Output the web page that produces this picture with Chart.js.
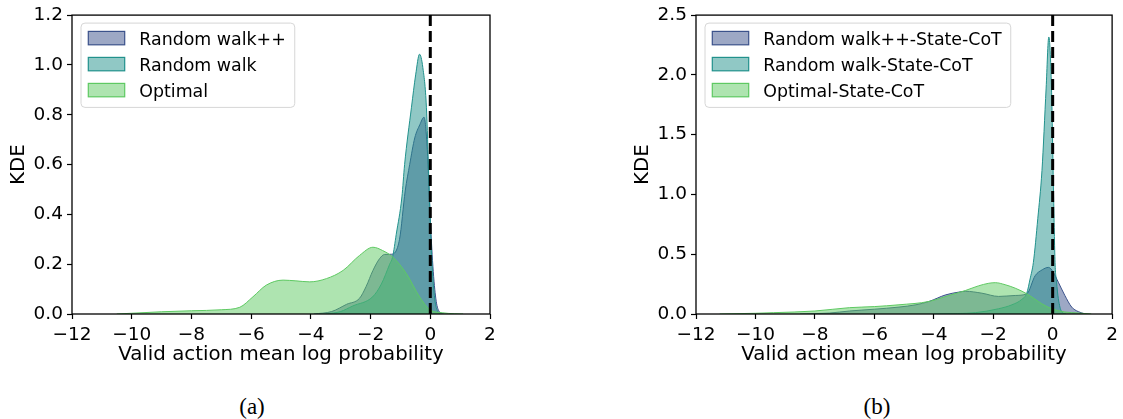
<!DOCTYPE html>
<html>
<head>
<meta charset="utf-8">
<script src="https://cdn.jsdelivr.net/npm/chart.js@4.4.1/dist/chart.umd.min.js"></script>
<style>
  html, body { margin: 0; padding: 0; background: #fff; }
  #figure { position: relative; width: 1123px; height: 419px; overflow: hidden; background: #fff; }
  #figure canvas { position: absolute; top: 0; }
  .caption {
    position: absolute; top: 395px; width: 100px; height: 23px; line-height: 23px;
    text-align: center; font-family: 'Liberation Serif', serif; font-size: 23px; color: #000;
  }
</style>
</head>
<body>
<div id="figure">
  <canvas id="chartA" width="560" height="380" style="left:0"></canvas>
  <canvas id="chartB" width="499" height="380" style="left:624px"></canvas>
  <div class="caption" style="left:202px">(a)</div>
  <div class="caption" style="left:827px">(b)</div>
</div>
<script>
// Series names
const labelsA = ['Random walk++', 'Random walk', 'Optimal'];
const labelsB = ['Random walk++-State-CoT', 'Random walk-State-CoT', 'Optimal-State-CoT'];

// Panel (a): KDE curves
const rwPlusX = [-3.9, -3.3, -2.8, -2.37, -2.15, -1.92, -1.7, -1.53, -1.3, -1.03, -0.84, -0.69, -0.52, -0.35, -0.21, -0.1, 0.0, 0.1, 0.2, 0.3, 0.45];
const rwPlusY = [0, 0.01, 0.039, 0.063, 0.11, 0.175, 0.222, 0.239, 0.24, 0.3, 0.494, 0.6, 0.707, 0.76, 0.79, 0.66, 0.38, 0.17, 0.05, 0.01, 0];

const rwX = [-3.5, -3.0, -2.6, -1.93, -1.64, -1.36, -1.26, -1.14, -0.95, -0.86, -0.63, -0.49, -0.36, -0.25, -0.13, -0.05, 0.05, 0.15, 0.25, 0.35];
const rwY = [0, 0.01, 0.032, 0.069, 0.12, 0.2, 0.23, 0.32, 0.47, 0.6, 0.83, 0.96, 1.043, 0.99, 0.83, 0.55, 0.22, 0.06, 0.01, 0];

const optX = [-10.5, -10, -9, -8, -7, -6.38, -5.94, -5.49, -4.93, -4.5, -4.04, -3.48, -2.92, -2.37, -1.92, -1.6, -1.25, -0.8, -0.36, 0, 0.4, 0.8, 1.1];
const optY = [0, 0.003, 0.009, 0.013, 0.017, 0.027, 0.069, 0.116, 0.136, 0.133, 0.129, 0.142, 0.175, 0.235, 0.268, 0.255, 0.228, 0.162, 0.069, 0.016, 0.005, 0.001, 0];

// Panel (b): State-CoT variants
const rwPlusCotX = [-8.5, -7.5, -6.84, -6, -5.17, -4.6, -4.16, -3.6, -3.16, -2.93, -2.38, -1.82, -1.26, -0.87, -0.59, -0.35, -0.14, 0.02, 0.19, 0.41, 0.64, 0.86, 1.1];
const rwPlusCotY = [0, 0.008, 0.025, 0.04, 0.058, 0.077, 0.105, 0.16, 0.183, 0.19, 0.174, 0.147, 0.155, 0.169, 0.32, 0.37, 0.39, 0.35, 0.266, 0.155, 0.058, 0.02, 0];

const rwCotX = [-4, -3.2, -2.6, -1.82, -1.37, -1.04, -0.87, -0.76, -0.65, -0.5, -0.36, -0.22, -0.13, -0.04, 0.03, 0.08, 0.13, 0.19, 0.3, 0.45];
const rwCotY = [0, 0.004, 0.011, 0.044, 0.077, 0.122, 0.175, 0.293, 0.43, 0.8, 1.2, 1.89, 2.317, 1.89, 1.0, 0.43, 0.27, 0.13, 0.02, 0];

const optCotX = [-11.2, -10, -9.4, -8, -6.84, -6, -5.17, -4.16, -3.49, -2.93, -2.5, -2.15, -1.93, -1.6, -1.26, -0.87, -0.6, -0.37, -0.03, 0.41, 0.86, 1.3];
const optCotY = [0, 0.006, 0.011, 0.025, 0.053, 0.062, 0.077, 0.105, 0.155, 0.197, 0.235, 0.257, 0.262, 0.245, 0.216, 0.169, 0.125, 0.086, 0.044, 0.017, 0.008, 0];

// Dashed reference line position
const refLineX = 0;

const colors = ['#3b528b', '#21918c', '#5ec962'];
const fontFamily = '"DejaVu Sans", sans-serif';

// Frame around the chart area (all four spines)
function chartAreaBorderPlugin() {
  return {
    id: 'chartAreaBorder',
    afterDatasetsDraw(chart) {
      const { ctx, chartArea: { left, top, right, bottom } } = chart;
      ctx.save();
      ctx.strokeStyle = '#000';
      ctx.lineWidth = 1.3;
      ctx.strokeRect(left, top, right - left, bottom - top);
      ctx.restore();
    },
  };
}

// Legend in a light rounded box, upper left corner
function legendBoxPlugin() {
  return {
    id: 'legendBox',
    afterDatasetsDraw(chart) {
      const { ctx, chartArea } = chart;
      const items = chart.data.datasets.filter((ds) => ds.fill);
      ctx.save();
      ctx.font = `17.4px ${fontFamily}`;
      const textWidth = Math.max(...items.map((ds) => ctx.measureText(ds.label).width));
      const rowGap = 26;
      const left = chartArea.left + 9;
      const top = chartArea.top + 8;
      const width = 58.3 + textWidth + 9;
      const height = 15 + rowGap * (items.length - 1) + 17.3;

      ctx.beginPath();
      if (ctx.roundRect) ctx.roundRect(left, top, width, height, 4);
      else ctx.rect(left, top, width, height);
      ctx.fillStyle = 'rgba(255,255,255,0.8)';
      ctx.fill();
      ctx.strokeStyle = '#d6d6d6';
      ctx.lineWidth = 1;
      ctx.stroke();

      items.forEach((ds, i) => {
        const cy = top + 15 + i * rowGap;
        ctx.fillStyle = ds.backgroundColor;
        ctx.fillRect(left + 7.3, cy - 6.7, 36.4, 13.4);
        ctx.strokeStyle = ds.borderColor;
        ctx.lineWidth = 1.2;
        ctx.strokeRect(left + 7.3, cy - 6.7, 36.4, 13.4);
        ctx.fillStyle = '#000';
        ctx.textBaseline = 'alphabetic';
        ctx.textAlign = 'left';
        ctx.fillText(ds.label, left + 58.3, cy + 7.1);
      });
      ctx.restore();
    },
  };
}

function formatXTick(value) {
  return value < 0 ? '\u2212' + Math.abs(value) : String(value);
}

// Draws one KDE panel
function renderKdeChart(canvasId, { labels, series, yMax, yStep }) {
  const canvas = document.getElementById(canvasId);

  // later series are painted over earlier ones (lower order = on top)
  const datasets = series.map(([xs, ys], index) => ({
    label: labels[index],
    data: xs.map((x, i) => ({ x, y: ys[i] })),
    borderColor: colors[index],
    backgroundColor: colors[index] + '80',
    borderWidth: 1,
    fill: 'origin',
    pointRadius: 0,
    cubicInterpolationMode: 'monotone',
    order: series.length - index,
  }));

  datasets.push({
    label: 'zero',
    data: [{ x: refLineX, y: 0 }, { x: refLineX, y: yMax }],
    borderColor: '#000',
    borderWidth: 3,
    borderDash: [11, 5],
    pointRadius: 0,
    fill: false,
    order: -1,
  });

  const tickFont = { family: fontFamily, size: 18.5 };
  const titleFont = { family: fontFamily, size: 19.8 };
  const grid = {
    display: true,
    drawOnChartArea: false,
    drawTicks: true,
    tickLength: 5,
    tickColor: '#000',
    tickWidth: 1.2,
  };

  return new Chart(canvas.getContext('2d'), {
    type: 'line',
    data: { datasets },
    options: {
      responsive: false,
      animation: false,
      devicePixelRatio: 1,
      layout: {
        padding: { top: 13, left: 0, right: canvas.width - 490, bottom: 13 },
      },
      plugins: {
        legend: { display: false },
        tooltip: { enabled: false },
      },
      scales: {
        x: {
          type: 'linear',
          min: -12,
          max: 2,
          ticks: {
            stepSize: 2,
            color: '#000',
            font: tickFont,
            padding: 5,
            maxRotation: 0,
            autoSkip: false,
            callback: formatXTick,
          },
          grid,
          border: { display: false },
          title: {
            display: true,
            text: 'Valid action mean log probability',
            color: '#000',
            font: titleFont,
            padding: { top: 0, bottom: 0 },
          },
          afterFit: (scale) => {
            scale.height = 53;
          },
        },
        y: {
          min: 0,
          max: yMax,
          ticks: {
            stepSize: yStep,
            color: '#000',
            font: tickFont,
            padding: 4,
            callback: (value) => value.toFixed(1),
          },
          grid,
          border: { display: false },
          title: {
            display: true,
            text: 'KDE',
            color: '#000',
            font: titleFont,
            padding: { top: 7, bottom: 0 },
          },
          afterFit: (scale) => {
            scale.width = 72;
          },
        },
      },
    },
    plugins: [chartAreaBorderPlugin(), legendBoxPlugin()],
  });
}

renderKdeChart('chartA', {
  labels: labelsA,
  series: [[rwPlusX, rwPlusY], [rwX, rwY], [optX, optY]],
  yMax: 1.2,
  yStep: 0.2,
});

renderKdeChart('chartB', {
  labels: labelsB,
  series: [[rwPlusCotX, rwPlusCotY], [rwCotX, rwCotY], [optCotX, optCotY]],
  yMax: 2.5,
  yStep: 0.5,
});
</script>
</body>
</html>
